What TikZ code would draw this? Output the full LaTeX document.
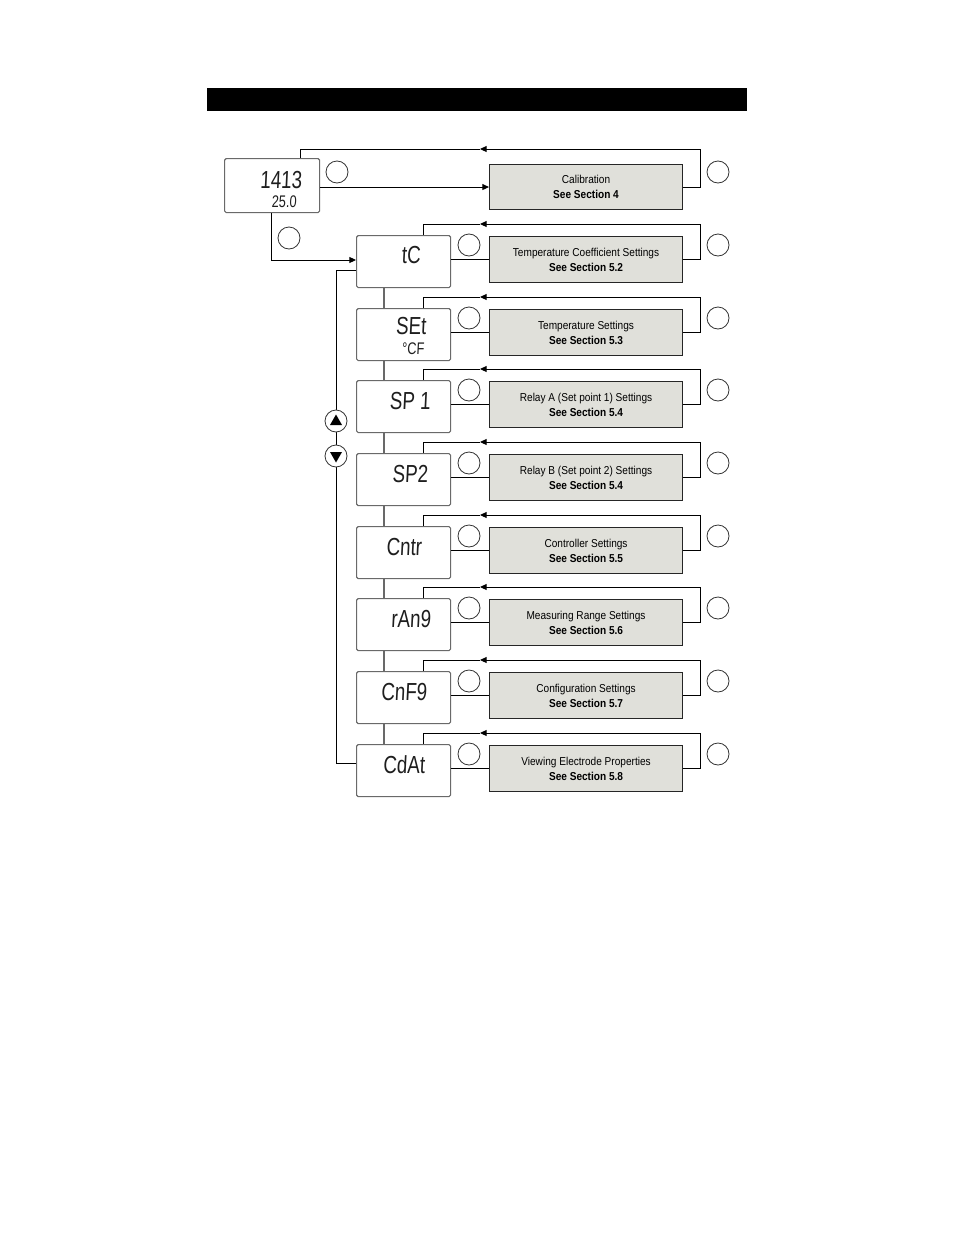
\documentclass[tikz,border=0pt]{standalone}
\usepackage{fontspec}
\setmainfont{Liberation Sans}
\newfontfamily\segfont{Liberation Sans}[FakeStretch=0.76,FakeSlant=0.05]
\newfontfamily\lblfont{Liberation Sans}[FakeStretch=0.88]
\usetikzlibrary{arrows.meta}
\definecolor{boxfill}{RGB}{224,224,218}
\definecolor{dispedge}{RGB}{105,105,105}
\definecolor{segcol}{RGB}{30,30,30}
\begin{document}
\begin{tikzpicture}[x=0.75pt,y=-0.75pt,
  disp/.style={draw=dispedge, line width=0.9pt, rounded corners=1.2pt, minimum width=70.5pt, minimum height=39pt, anchor=north west, inner sep=0pt},
  gbox/.style={draw=black!85, fill=boxfill, line width=0.8pt, minimum width=144.75pt, minimum height=34.5pt, anchor=north west, align=center, inner sep=0pt, text depth=-1.5pt, font=\lblfont\fontsize{8.6}{11.25}\selectfont},
  key/.style={circle, draw=black!80, fill=white, line width=0.6pt, minimum size=16.5pt, inner sep=0pt},
  conn/.style={draw=black, line width=0.7pt},
  link/.style={draw=dispedge, line width=0.9pt},
  arr/.style={conn, -{Triangle[length=5pt,width=4.5pt]}},
  seg/.style={font=\segfont\fontsize{18.5}{18.5}\selectfont, text=segcol, inner sep=0pt},
  segs/.style={font=\segfont\fontsize{12.6}{12.6}\selectfont, text=segcol, inner sep=0pt}]
\useasboundingbox (0,0) rectangle (954,1235);
\fill[black] (207,88) rectangle (747,111);

% start display
\node[disp, minimum width=71.25pt, minimum height=40.5pt] (d0) at (224,158) {};
\node[seg] (r0a) at (281,180) {1413};
\node[segs] (r0b) at (284,202) {25.0};
\node[gbox, minimum height=33.75pt] (g0) at (489,164) {Calibration\\\textbf{See Section 4}};
\draw[arr] (g0.west -| d0.east) -- (g0.west);
\coordinate (rt0) at (700,149);
\coordinate (ah0) at (480,149);
\coordinate (lt0) at (300,149);
\draw[conn] (g0.east) -| (rt0);
\draw[arr] (rt0) -- (ah0);
\draw[conn] (ah0) -- (lt0) -- (lt0 |- d0.north);
\node[key] (k0a) at (337,172) {};
\node[key] (k0b) at (718,172) {};

% rows
\foreach \i/\T/\lab/\sec in {
  1/235/Temperature Coefficient Settings/5.2,
  2/308/Temperature Settings/5.3,
  3/380/Relay A (Set point 1) Settings/5.4,
  4/453/Relay B (Set point 2) Settings/5.4,
  5/526/Controller Settings/5.5,
  6/598/Measuring Range Settings/5.6,
  7/671/Configuration Settings/5.7,
  8/744/Viewing Electrode Properties/5.8}{
  \node[disp] (d\i) at (356,\T) {};
  \node[gbox] (g\i) at (489,\T+1) {\lab\\\textbf{See Section \sec}};
  \draw[conn] (g\i.west -| d\i.east) -- (g\i.west);
  \coordinate (rt\i) at (700,\T-11);
  \coordinate (ah\i) at (480,\T-11);
  \coordinate (lt\i) at (423,\T-11);
  \draw[conn] (g\i.east) -| (rt\i);
  \draw[arr] (rt\i) -- (ah\i);
  \draw[conn] (ah\i) -- (lt\i) -- (lt\i |- d\i.north);
  \node[key] (ka\i) at (469,\T+10) {};
  \node[key] (kb\i) at (718,\T+10) {};
}

% readouts
\node[seg] (r1) at (411,255) {tC};
\node[seg] (r2a) at (411,326) {SEt};
\node[segs] (r2b) at (413,349) {°CF};
\node[seg] (r3) at (410,401) {SP 1};
\node[seg] (r4) at (410,474) {SP2};
\node[seg] (r5) at (404,547) {Cntr};
\node[seg] (r6) at (411,619) {rAn9};
\node[seg] (r7) at (404,692) {CnF9};
\node[seg] (r8) at (404,765) {CdAt};

% vertical links between displays
\foreach \a/\b in {1/2,2/3,3/4,4/5,5/6,6/7,7/8}{
  \draw[link] ([xshift=21pt]d\a.south west) -- ([xshift=21pt]d\b.north west);
}

% entry from start display
\coordinate (c0) at (271,260);
\draw[conn] (c0 |- d0.south) -- (c0);
\draw[arr] (c0) -- (c0 -| d1.west);
\node[key] (k0c) at (289,238) {};

% loop back
\coordinate (lb) at (336,763);
\coordinate (lu) at (336,270);
\draw[conn] (lb -| d8.west) -- (lb) -- (lu) -- (lu -| d1.west);
\node[key] (up) at (336,421) {};
\node[key] (dn) at (336,456) {};
\fill[black] (336,414.5) -- (330,425) -- (342,425) -- cycle;
\fill[black] (336,462.5) -- (330,452) -- (342,452) -- cycle;
\end{tikzpicture}
\end{document}
